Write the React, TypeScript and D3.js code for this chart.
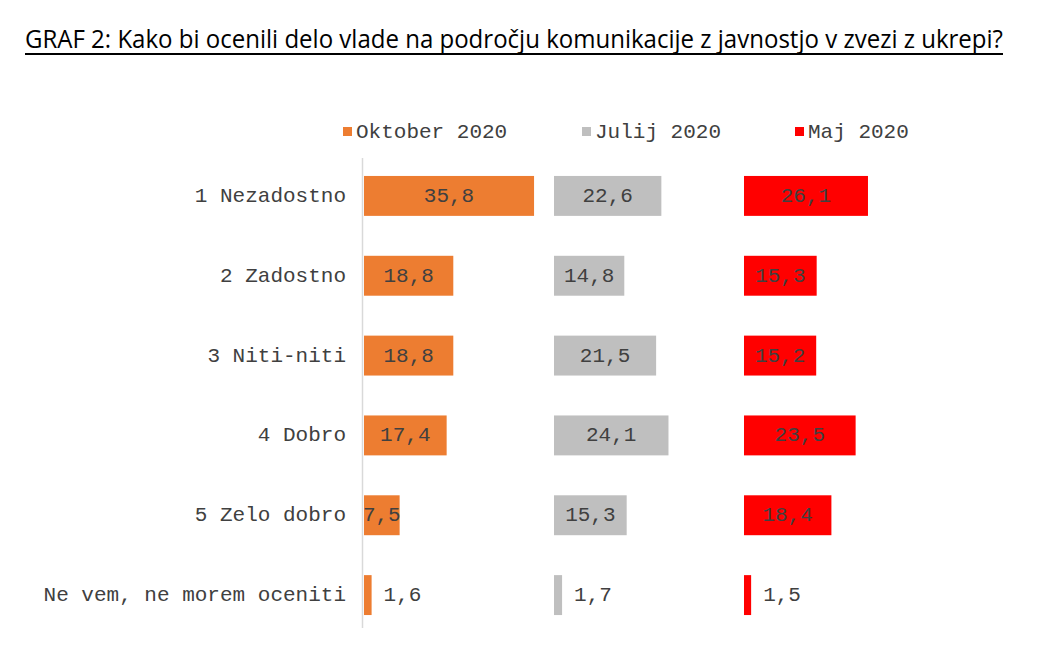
import React, { useEffect, useRef } from 'react';
import * as d3 from 'd3';

const categories = [
  '1 Nezadostno',
  '2 Zadostno',
  '3 Niti-niti',
  '4 Dobro',
  '5 Zelo dobro',
  'Ne vem, ne morem oceniti',
];

const oktober = [35.8, 18.8, 18.8, 17.4, 7.5, 1.6];
const julij = [22.6, 14.8, 21.5, 24.1, 15.3, 1.7];
const maj = [26.1, 15.3, 15.2, 23.5, 18.4, 1.5];

const seriesNames = ['Oktober 2020', 'Julij 2020', 'Maj 2020'];
const seriesColors = ['#ED7D31', '#BFBFBF', '#FF0000'];

const title =
  'GRAF 2: Kako bi ocenili delo vlade na področju komunikacije z javnostjo v zvezi z ukrepi?';

const mono = '"Liberation Mono", "Courier New", monospace';

export default function App() {
  const svgRef = useRef<SVGSVGElement>(null);

  useEffect(() => {
    if (!svgRef.current) return;
    const svg = d3.select(svgRef.current);
    svg.selectAll('*').remove();

    const width = 1044;
    const height = 656;
    svg.attr('viewBox', `0 0 ${width} ${height}`);

    svg.append('rect').attr('width', width).attr('height', height).attr('fill', '#fff');

    // title, underlined
    svg
      .append('text')
      .attr('x', 25)
      .attr('y', 48)
      .attr('font-family', '"Open Sans", "Noto Sans", sans-serif')
      .attr('font-size', 25)
      .attr('fill', '#000')
      .attr('textLength', 978)
      .attr('lengthAdjust', 'spacingAndGlyphs')
      .text(title);
    svg
      .append('line')
      .attr('x1', 25)
      .attr('x2', 1003)
      .attr('y1', 54)
      .attr('y2', 54)
      .attr('stroke', '#000')
      .attr('stroke-width', 2);

    const y = d3
      .scaleBand<string>()
      .domain(categories)
      .range([156, 635])
      .paddingInner(0.5)
      .paddingOuter(0.25);

    const panelX = [364, 554, 744];
    const x = d3.scaleLinear().domain([0, 40]).range([0, 190]);
    const data = [oktober, julij, maj];

    // axis line
    svg
      .append('line')
      .attr('x1', 362.5)
      .attr('x2', 362.5)
      .attr('y1', 158)
      .attr('y2', 628)
      .attr('stroke', '#D9D9D9')
      .attr('stroke-width', 1.5);

    // category labels
    svg
      .append('g')
      .selectAll('text')
      .data(categories)
      .join('text')
      .attr('x', 346)
      .attr('y', d => (y(d) as number) + y.bandwidth() / 2 + 6)
      .attr('text-anchor', 'end')
      .attr('font-family', mono)
      .attr('font-size', 21)
      .attr('fill', '#404040')
      .text(d => d);

    // bars
    data.forEach((vals, si) => {
      const g = svg.append('g').attr('transform', `translate(${panelX[si]},0)`);
      g.selectAll('rect')
        .data(vals)
        .join('rect')
        .attr('x', 0)
        .attr('y', (_, i) => y(categories[i]) as number)
        .attr('width', d => x(d))
        .attr('height', y.bandwidth())
        .attr('fill', seriesColors[si]);

      g.selectAll('text')
        .data(vals)
        .join('text')
        .attr('x', d => (x(d) < 30 ? x(d) + 12 : x(d) / 2))
        .attr('y', (_, i) => (y(categories[i]) as number) + y.bandwidth() / 2 + 6)
        .attr('text-anchor', d => (x(d) < 30 ? 'start' : 'middle'))
        .attr('font-family', mono)
        .attr('font-size', 21)
        .attr('fill', '#404040')
        .text(d => d3.format('.1f')(d).replace('.', ','));
    });

    // legend
    const legendSq = [343, 582, 795];
    const legend = svg.append('g');
    seriesNames.forEach((name, i) => {
      legend
        .append('rect')
        .attr('x', legendSq[i])
        .attr('y', 127)
        .attr('width', 9)
        .attr('height', 9)
        .attr('fill', seriesColors[i]);
      legend
        .append('text')
        .attr('x', legendSq[i] + 13)
        .attr('y', 138)
        .attr('font-family', mono)
        .attr('font-size', 21)
        .attr('fill', '#404040')
        .text(name);
    });
  }, []);

  return (
    <svg
      ref={svgRef}
      width={1044}
      height={656}
      style={{ display: 'block', position: 'absolute', left: 0, top: 0 }}
    />
  );
}
